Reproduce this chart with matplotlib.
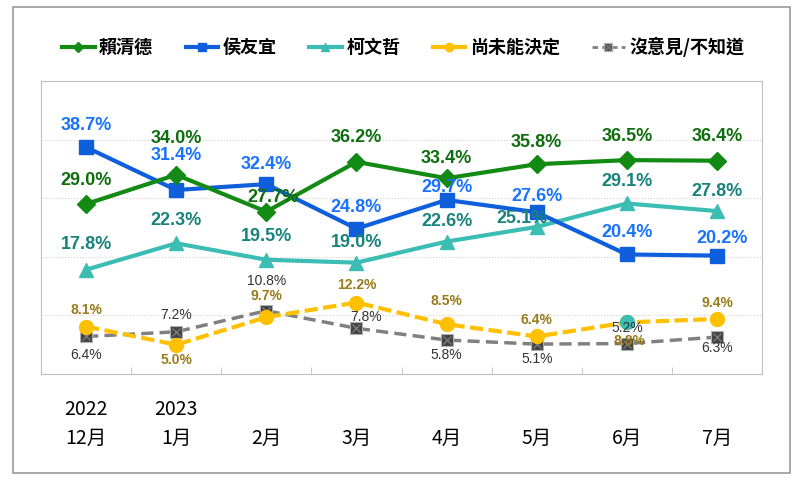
import matplotlib
matplotlib.use("Agg")
import matplotlib.pyplot as plt
from matplotlib.lines import Line2D
from matplotlib.patches import Rectangle

plt.rcParams['font.family'] = ['Liberation Sans', 'Noto Sans CJK TC', 'DejaVu Sans']

# Data
months = ["12月", "1月", "2月", "3月", "4月", "5月", "6月", "7月"]
years = ["2022", "2023", "", "", "", "", "", ""]
names = ["賴清德", "侯友宜", "柯文哲", "尚未能決定", "沒意見/不知道"]
lai = [29.0, 34.0, 27.7, 36.2, 33.4, 35.8, 36.5, 36.4]
hou = [38.7, 31.4, 32.4, 24.8, 29.7, 27.6, 20.4, 20.2]
ko = [17.8, 22.3, 19.5, 19.0, 22.6, 25.1, 29.1, 27.8]
undecided = [8.1, 5.0, 9.7, 12.2, 8.5, 6.4, 8.8, 9.4]
no_opinion = [6.4, 7.2, 10.8, 7.8, 5.8, 5.1, 5.2, 6.3]

x = list(range(len(months)))

# label offsets in pixels (dx, dy up)
lai_off = [(0, 24), (0, 36), (7, 14), (0, 24), (0, 20), (0, 22), (0, 24), (0, 24)]
hou_off = [(0, 22), (0, 34), (0, 20), (0, 21), (0, 12), (0, 16), (0, 22), (5, 17)]
ko_off = [(0, 25), (0, 23), (0, 23), (0, 20), (0, 20), (-15, 8), (0, 22), (0, 20)]
und_off = [(0, 17), (0, -15), (0, 21), (0, 18), (0, 23), (0, 16), (3, -19), (0, 16)]
no_off = [(0, -19), (0, 17), (0, 30), (10, 11), (0, -15), (0, -15), (0, 16), (0, -11)]

fig = plt.figure(figsize=(8, 4.86), dpi=100)
ax = fig.add_axes([41 / 800, 1 - 374 / 486, (762 - 41) / 800, (374 - 81) / 486])

green, blue, teal, yellow, gray = '#138A13', '#0F5FDC', '#3CBDB4', '#FFC000', '#808080'

ax.plot(x, no_opinion, color=gray, lw=2.5, ls=(0, (3.5, 1.8)), marker='s', ms=9,
        mfc='#444444', mec='#b0b0b0', mew=0.8, zorder=3)
ax.plot(x, no_opinion, ls='none', marker='x', ms=6, color='#7a7a7a', mew=1, zorder=3.1)
ax.plot(x, undecided, color=yellow, lw=3, ls=(0, (3.2, 1.3)), marker='o', ms=10, zorder=3.2)
ax.plot(x[6], undecided[6], ls='none', marker='o', ms=10, color=teal, zorder=3.3)
ax.plot(x, ko, color=teal, lw=3, marker='^', ms=10, zorder=4)
ax.plot(x, hou, color=blue, lw=3, marker='s', ms=10, zorder=5)
ax.plot(x, lai, color=green, lw=3, marker='D', ms=9, zorder=6)

def put_labels(vals, offs, color, size, weight):
    for i, v in enumerate(vals):
        dx, dy = offs[i]
        ax.annotate(f"{v:.1f}%", (x[i], v), xytext=(dx * 0.72, dy * 0.72),
                    textcoords='offset points', ha='center', va='center',
                    color=color, fontsize=size, fontweight=weight, zorder=10)

put_labels(lai, lai_off, '#0E6E0E', 13, 'bold')
put_labels(hou, hou_off, '#1A73FF', 13, 'bold')
put_labels(ko, ko_off, '#17837C', 13, 'bold')
put_labels(undecided, und_off, '#9A7B1A', 10, 'bold')
put_labels(no_opinion, no_off, '#333333', 10, 'normal')

ax.set_xlim(-0.5, 7.5)
ax.set_ylim(0, 50)
ax.set_yticks([10, 20, 30, 40])
ax.yaxis.grid(True, ls=':', color='#d0d0d0', lw=0.8)
ax.tick_params(axis='y', left=False, labelleft=False)
ax.set_xticks(x)
ax.set_xticklabels([f"{y}\n{m}" for y, m in zip(years, months)],
                   family=['Noto Sans CJK TC', 'DejaVu Sans'], fontsize=14, linespacing=1.5)
ax.tick_params(axis='x', which='major', length=0, pad=18)
ax.set_xticks([i + 0.5 for i in x[:-1]], minor=True)
ax.tick_params(axis='x', which='minor', direction='in', length=5, color='#bfbfbf')
for s in ax.spines.values():
    s.set_color('#bfbfbf')

# legend
handles = [
    Line2D([], [], color=green, lw=3, marker='D', ms=5),
    Line2D([], [], color=blue, lw=3, marker='s', ms=6),
    Line2D([], [], color=teal, lw=3, marker='^', ms=6),
    Line2D([], [], color=yellow, lw=3, marker='o', ms=6),
    (Line2D([], [], color=gray, lw=2, ls=(0, (2, 1.5)), marker='s', ms=6, mfc='#444444', mec='#b0b0b0'),
     Line2D([], [], ls='none', marker='x', ms=4, color='#7a7a7a')),
]
fig.legend(handles, names, loc='center', bbox_to_anchor=(0.504, 1 - 47 / 486), ncol=5,
           frameon=False, handlelength=1.8, handletextpad=0.25, columnspacing=1.8,
           prop={'family': ['Noto Sans CJK TC'], 'size': 13, 'weight': 'bold'})

fig.patches.append(Rectangle((13 / 800, 1 - 473 / 486), (790 - 13) / 800, (473 - 7) / 486,
                             transform=fig.transFigure, fill=False, edgecolor='#999999', lw=1.2))

fig.savefig("out.png", dpi=100)
